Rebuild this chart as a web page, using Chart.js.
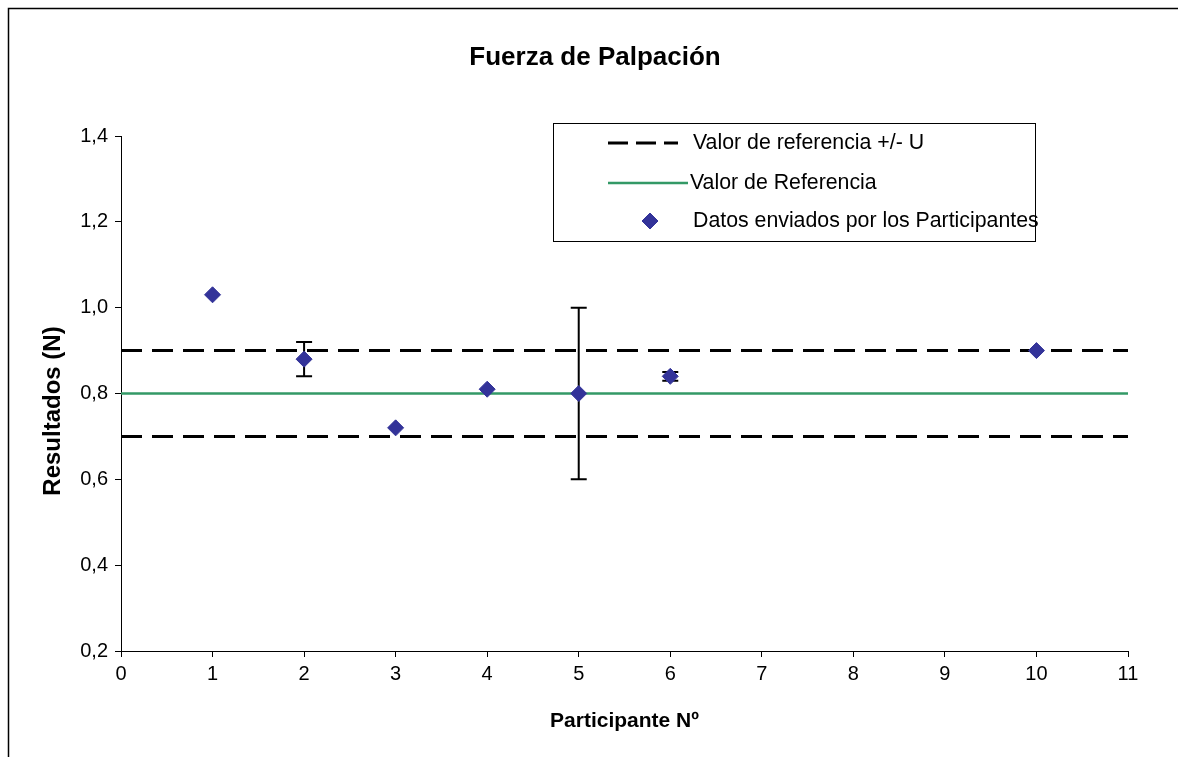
<!DOCTYPE html>
<html lang="es">
<head>
<meta charset="utf-8">
<title>Fuerza de Palpación</title>
<script src="https://cdn.jsdelivr.net/npm/chart.js@4.4.1/dist/chart.umd.min.js"></script>
<style>
  html, body { margin: 0; padding: 0; background: #ffffff; }
  #wrap { width: 1178px; height: 757px; }
</style>
</head>
<body>
<div id="wrap"><canvas id="chart" width="1178" height="757"></canvas></div>
<script>
// Participant results (N) and their reported uncertainties
const participants = [1, 2, 3, 4, 5, 6, 10];
const results = [1.03, 0.88, 0.72, 0.81, 0.80, 0.84, 0.90];
const uncertainties = [0, 0.04, 0, 0, 0.20, 0.01, 0];

// Assigned value and its expanded uncertainty
const referenceValue = 0.8;
const expandedU = 0.1;

// Axis tick labels
const xTickLabels = ['0', '1', '2', '3', '4', '5', '6', '7', '8', '9', '10', '11'];
const yTickLabels = ['0,2', '0,4', '0,6', '0,8', '1,0', '1,2', '1,4'];

const chartTitle = 'Fuerza de Palpación';
const xTitle = 'Participante Nº';
const yTitle = 'Resultados (N)';
const legendLabels = ['Valor de referencia +/- U', 'Valor de Referencia', 'Datos enviados por los Participantes'];

const FONT = '"Liberation Sans", Arial, Helvetica, sans-serif';
const MARKER = '#333399';
const REF_GREEN = '#339966';
const DASH = [21, 10];

const xMin = 0, xMax = 11;

const points = participants.map((p, i) => ({ x: p, y: results[i] }));
const hline = (v) => [{ x: xMin, y: v }, { x: xMax, y: v }];

// Vertical error bars with caps, drawn just under the participant markers
const errorBars = {
  id: 'errorBars',
  beforeDatasetDraw(chart, args) {
    if (args.index !== 0) return;
    const { ctx, scales: { x, y } } = chart;
    ctx.save();
    ctx.strokeStyle = '#000000';
    ctx.lineWidth = 2;
    participants.forEach((p, i) => {
      const u = uncertainties[i];
      if (!u) return;
      const px = x.getPixelForValue(p);
      const top = y.getPixelForValue(results[i] + u);
      const bot = y.getPixelForValue(results[i] - u);
      ctx.beginPath();
      ctx.moveTo(px, top); ctx.lineTo(px, bot);
      ctx.moveTo(px - 8, top); ctx.lineTo(px + 8, top);
      ctx.moveTo(px - 8, bot); ctx.lineTo(px + 8, bot);
      ctx.stroke();
    });
    ctx.restore();
  }
};

// Background, outer frame, titles and the boxed legend
const decorations = {
  id: 'decorations',
  beforeDraw(chart) {
    const { ctx, width, height } = chart;
    ctx.save();
    ctx.fillStyle = '#ffffff';
    ctx.fillRect(0, 0, width, height);
    ctx.strokeStyle = '#000000';
    ctx.lineWidth = 1.5;
    ctx.strokeRect(8.5, 8.5, width + 20, height + 20);
    ctx.restore();
  },
  afterDraw(chart) {
    const { ctx, chartArea } = chart;
    ctx.save();
    ctx.fillStyle = '#000000';

    ctx.textAlign = 'center';
    ctx.textBaseline = 'alphabetic';
    ctx.font = 'bold 26px ' + FONT;
    ctx.fillText(chartTitle, 595, 65);

    ctx.font = 'bold 21px ' + FONT;
    ctx.fillText(xTitle, (chartArea.left + chartArea.right) / 2, 727);

    ctx.save();
    ctx.font = 'bold 24px ' + FONT;
    ctx.translate(60, 411);
    ctx.rotate(-Math.PI / 2);
    ctx.fillText(yTitle, 0, 0);
    ctx.restore();

    // legend box
    const bx = 553.5, by = 123.5, bw = 482, bh = 118;
    ctx.strokeStyle = '#000000';
    ctx.lineWidth = 1;
    ctx.strokeRect(bx, by, bw, bh);

    const ds = chart.data.datasets;
    ctx.font = '21.3px ' + FONT;
    ctx.textAlign = 'left';
    ctx.textBaseline = 'middle';

    // dashed limits
    const lim = ds[1];
    ctx.save();
    ctx.strokeStyle = lim.borderColor;
    ctx.lineWidth = lim.borderWidth;
    ctx.setLineDash([20, 8]);
    ctx.beginPath();
    ctx.moveTo(608, 143); ctx.lineTo(678, 143);
    ctx.stroke();
    ctx.restore();
    ctx.fillText(legendLabels[0], 693, 143);

    // reference value
    const ref = ds[3];
    ctx.save();
    ctx.strokeStyle = ref.borderColor;
    ctx.lineWidth = ref.borderWidth;
    ctx.beginPath();
    ctx.moveTo(608, 183); ctx.lineTo(688, 183);
    ctx.stroke();
    ctx.restore();
    ctx.fillText(legendLabels[1], 690, 183);

    // participant marker
    const pts = ds[0];
    ctx.save();
    ctx.fillStyle = pts.backgroundColor;
    ctx.strokeStyle = pts.borderColor;
    ctx.lineWidth = 1;
    Chart.helpers.drawPoint(ctx, { pointStyle: 'rectRot', radius: pts.pointRadius, borderWidth: 1 }, 650, 221);
    ctx.restore();
    ctx.fillText(legendLabels[2], 693, 221);

    ctx.restore();
  }
};

new Chart(document.getElementById('chart'), {
  type: 'scatter',
  data: {
    datasets: [
      {
        label: legendLabels[2],
        data: points,
        pointStyle: 'rectRot',
        pointRadius: 8,
        pointHoverRadius: 8,
        backgroundColor: MARKER,
        borderColor: MARKER,
        borderWidth: 1,
        showLine: false
      },
      {
        label: legendLabels[0],
        data: hline(referenceValue + expandedU),
        showLine: true,
        borderColor: '#000000',
        borderWidth: 3,
        borderDash: DASH,
        pointRadius: 0
      },
      {
        label: legendLabels[0],
        data: hline(referenceValue - expandedU),
        showLine: true,
        borderColor: '#000000',
        borderWidth: 3,
        borderDash: DASH,
        pointRadius: 0
      },
      {
        label: legendLabels[1],
        data: hline(referenceValue),
        showLine: true,
        borderColor: REF_GREEN,
        borderWidth: 2.5,
        pointRadius: 0
      }
    ]
  },
  options: {
    responsive: false,
    animation: false,
    events: [],
    layout: { padding: { left: 0, right: 50, top: 136, bottom: 0 } },
    plugins: {
      legend: { display: false },
      title: { display: false },
      tooltip: { enabled: false }
    },
    scales: {
      x: {
        type: 'linear',
        min: xMin,
        max: xMax,
        afterFit(scale) { scale.height = 106; },
        border: { display: true, color: '#000000', width: 1 },
        grid: { drawOnChartArea: false, drawTicks: true, tickLength: 6, color: '#000000' },
        ticks: {
          stepSize: 1,
          autoSkip: false,
          maxRotation: 0,
          padding: 5,
          color: '#000000',
          font: { family: FONT, size: 20 },
          callback: (v) => xTickLabels[Math.round(v)]
        }
      },
      y: {
        type: 'linear',
        min: 0.2,
        max: 1.4,
        afterFit(scale) { scale.width = 121; },
        border: { display: true, color: '#000000', width: 1 },
        grid: { drawOnChartArea: false, drawTicks: true, tickLength: 6, color: '#000000' },
        ticks: {
          stepSize: 0.2,
          autoSkip: false,
          padding: 7,
          color: '#000000',
          font: { family: FONT, size: 20 },
          callback: (v) => yTickLabels[Math.round((v - 0.2) / 0.2)]
        }
      }
    }
  },
  plugins: [decorations, errorBars]
});
</script>
</body>
</html>
